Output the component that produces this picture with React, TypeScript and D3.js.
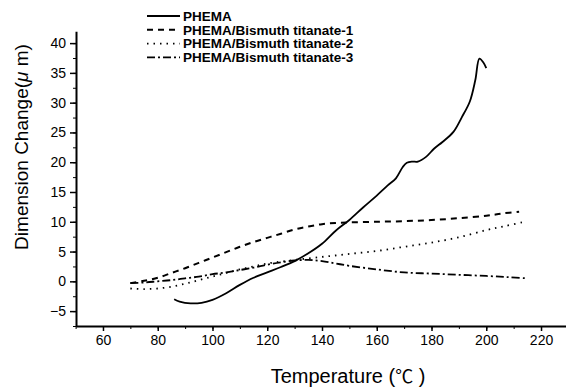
import React, { useEffect, useRef } from "react";
import * as d3 from "d3";

// PHEMA (solid)
const phemaT = [86, 88, 92, 96, 100, 105, 110, 115, 120, 125, 130, 135, 140, 145, 150, 155, 160, 164, 167, 169.5, 171, 173, 175, 178, 181, 184, 188, 191, 194, 196, 197.5, 199, 200];
const phemaV = [-3.0, -3.4, -3.7, -3.6, -3.1, -2.0, -0.6, 0.6, 1.5, 2.4, 3.4, 4.7, 6.3, 8.5, 10.3, 12.4, 14.4, 16.1, 17.3, 19.2, 19.9, 20.1, 20.1, 20.9, 22.3, 23.4, 25.1, 27.5, 30.2, 33.8, 37.4, 36.7, 35.8];

// PHEMA/Bismuth titanate-1 (dashed)
const bt1T = [70, 75, 80, 85, 90, 95, 100, 105, 110, 115, 120, 125, 130, 135, 140, 145, 150, 160, 170, 180, 190, 200, 206, 212];
const bt1V = [-0.3, 0.1, 0.6, 1.4, 2.2, 3.1, 4.0, 4.9, 5.8, 6.6, 7.3, 8.0, 8.7, 9.2, 9.6, 9.8, 9.9, 10.0, 10.1, 10.3, 10.6, 11.0, 11.4, 11.7];

// PHEMA/Bismuth titanate-2 (dotted)
const bt2T = [70, 75, 80, 85, 90, 95, 100, 105, 110, 115, 120, 125, 130, 140, 150, 160, 170, 180, 190, 200, 207, 214];
const bt2V = [-1.2, -1.3, -1.2, -0.9, -0.4, 0.2, 0.8, 1.4, 2.0, 2.5, 3.0, 3.3, 3.6, 4.1, 4.6, 5.1, 5.8, 6.5, 7.4, 8.6, 9.3, 10.0];

// PHEMA/Bismuth titanate-3 (dash-dot)
const bt3T = [70, 75, 80, 85, 90, 95, 100, 105, 110, 115, 120, 125, 130, 135, 140, 145, 150, 160, 170, 180, 190, 200, 208, 215];
const bt3V = [-0.3, -0.2, 0.0, 0.2, 0.5, 0.8, 1.2, 1.5, 1.9, 2.3, 2.8, 3.2, 3.5, 3.6, 3.4, 3.0, 2.6, 2.0, 1.5, 1.3, 1.1, 0.9, 0.7, 0.5];

const seriesNames = ["PHEMA", "PHEMA/Bismuth titanate-1", "PHEMA/Bismuth titanate-2", "PHEMA/Bismuth titanate-3"];
const xTicks = [60, 80, 100, 120, 140, 160, 180, 200, 220];
const yTicks = [-5, 0, 5, 10, 15, 20, 25, 30, 35, 40];

const W = 566;
const H = 389;
const FONT = "'Liberation Sans', Arial, 'Noto Sans CJK SC', sans-serif";

const App = () => {
  const ref = useRef<SVGSVGElement>(null);

  useEffect(() => {
    const svg = d3.select(ref.current);
    svg.selectAll("*").remove();

    const x = d3.scaleLinear().domain([50, 230]).range([75.6, 568.4]);
    const y = d3.scaleLinear().domain([-7.5, 42]).range([326, 31.2]);

    // minor ticks
    svg
      .append("g")
      .attr("transform", "translate(0,326)")
      .call(d3.axisBottom(x).tickValues(d3.range(50, 231, 10)).tickSize(3).tickFormat(() => ""))
      .call(g => g.select(".domain").remove());
    svg
      .append("g")
      .attr("transform", "translate(76,0)")
      .call(d3.axisLeft(y).tickValues(d3.range(-7.5, 42, 2.5)).tickSize(3).tickFormat(() => ""))
      .call(g => g.select(".domain").remove());

    const xAxis = svg
      .append("g")
      .attr("transform", "translate(0,326)")
      .call(d3.axisBottom(x).tickValues(xTicks).tickSize(5).tickSizeOuter(0).tickPadding(4));
    const yAxis = svg
      .append("g")
      .attr("transform", "translate(76,0)")
      .call(d3.axisLeft(y).tickValues(yTicks).tickSize(6).tickSizeOuter(0).tickPadding(4));

    [xAxis, yAxis].forEach(g => {
      g.select(".domain").attr("stroke-width", 2);
      g.selectAll("line").attr("stroke-width", 1.5);
      g.selectAll("text")
        .attr("font-family", FONT)
        .attr("font-size", 14)
        .attr("fill", "#000");
    });
    svg.selectAll("line").attr("stroke", "#000");

    const line = d3
      .line<[number, number]>()
      .x(d => x(d[0]))
      .y(d => y(d[1]))
      .curve(d3.curveCatmullRom);

    const series = [
      { t: phemaT, v: phemaV, dash: null, w: 1.8 },
      { t: bt1T, v: bt1V, dash: "6,5", w: 2 },
      { t: bt2T, v: bt2V, dash: "1.5,5", w: 1.8 },
      { t: bt3T, v: bt3V, dash: "8,3,2,3", w: 1.8 },
    ];

    series.forEach(s => {
      svg
        .append("path")
        .datum(s.t.map((t, i) => [t, s.v[i]] as [number, number]))
        .attr("fill", "none")
        .attr("stroke", "#000")
        .attr("stroke-width", s.w)
        .attr("stroke-dasharray", s.dash)
        .attr("d", line);
    });

    // legend
    const legend = svg.append("g");
    series.forEach((s, i) => {
      const ly = 16 + i * 13.8;
      legend
        .append("line")
        .attr("x1", 147)
        .attr("x2", 180)
        .attr("y1", ly)
        .attr("y2", ly)
        .attr("stroke", "#000")
        .attr("stroke-width", s.w)
        .attr("stroke-dasharray", s.dash);
      legend
        .append("text")
        .attr("x", 183)
        .attr("y", ly)
        .attr("dy", "0.35em")
        .attr("font-family", FONT)
        .attr("font-size", 13.5)
        .attr("font-weight", "bold")
        .text(seriesNames[i]);
    });

    // axis titles
    const xl = svg
      .append("text")
      .attr("x", 348)
      .attr("y", 383)
      .attr("text-anchor", "middle")
      .attr("font-family", FONT)
      .attr("font-size", 20);
    xl.append("tspan").text("Temperature (");
    xl.append("tspan").attr("font-family", "'Noto Sans CJK SC'").attr("font-size", 18).text("℃");
    xl.append("tspan").text(" )");

    const yl = svg
      .append("text")
      .attr("transform", "translate(28,147) rotate(-90)")
      .attr("text-anchor", "middle")
      .attr("font-family", FONT)
      .attr("font-size", 19);
    yl.append("tspan").text("Dimension Change(");
    yl.append("tspan").attr("font-style", "italic").text("μ");
    yl.append("tspan").text(" m)");
  }, []);

  return (
    <svg
      ref={ref}
      width={W}
      height={H}
      style={{ position: "absolute", left: 0, top: 0, background: "#fff" }}
    />
  );
};

export default App;
